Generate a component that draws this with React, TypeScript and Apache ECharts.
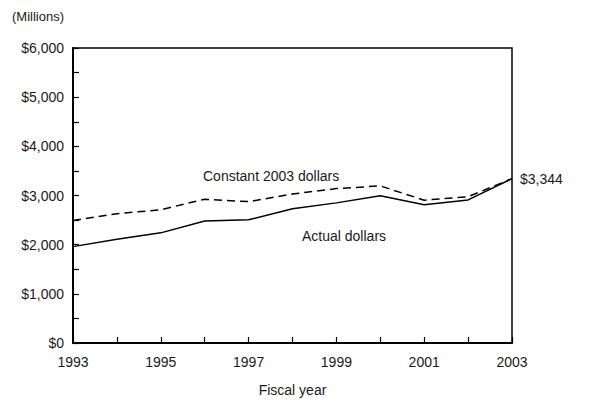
import React, { useEffect, useRef } from "react";
import * as echarts from "echarts";

const years = ["1993", "1994", "1995", "1996", "1997", "1998", "1999", "2000", "2001", "2002", "2003"];
const actualDollars = [1960, 2110, 2240, 2480, 2505, 2730, 2850, 2995, 2810, 2910, 3344];
const constant2003Dollars = [2490, 2630, 2710, 2925, 2875, 3030, 3140, 3195, 2905, 2975, 3344];
const yTicks = [0, 1000, 2000, 3000, 4000, 5000, 6000];

const FONT = "'Arial Narrow', 'Liberation Sans', Arial, sans-serif";
const TXT = "#1a1a1a";
const FS = 14;

export default function App() {
  const ref = useRef<HTMLDivElement>(null);
  useEffect(() => {
    if (!ref.current) return;
    const chart = echarts.init(ref.current, undefined, { renderer: "svg" });
    chart.setOption({
      animation: false,
      textStyle: { fontFamily: FONT, color: TXT },
      grid: {
        left: 73,
        right: 98,
        top: 48,
        bottom: 54,
        show: true,
        borderColor: "#000",
        borderWidth: 1.5,
        backgroundColor: "transparent",
      },
      graphic: [
        { type: "text", left: 12, top: 10, style: { text: "(Millions)", font: `13px ${FONT}`, fill: TXT } },
        { type: "text", left: 203, top: 169, style: { text: "Constant 2003 dollars", font: `${FS}px ${FONT}`, fill: TXT } },
        { type: "text", left: 302, top: 229, style: { text: "Actual dollars", font: `${FS}px ${FONT}`, fill: TXT } },
      ],
      xAxis: {
        type: "category",
        data: years,
        boundaryGap: false,
        name: "Fiscal year",
        nameLocation: "middle",
        nameGap: 40,
        nameTextStyle: { fontSize: FS, fontFamily: FONT, color: TXT },
        axisLine: { lineStyle: { color: "#000", width: 2 } },
        axisTick: { inside: true, length: 6, interval: 0, lineStyle: { color: "#000", width: 1.2 } },
        axisLabel: { interval: 1, fontSize: FS, fontFamily: FONT, color: TXT, margin: 12 },
        splitLine: { show: false },
      },
      yAxis: {
        type: "value",
        min: 0,
        max: 6000,
        interval: 500,
        axisLine: { show: true, lineStyle: { color: "#000", width: 2 } },
        axisTick: { show: true, inside: true, length: 6, lineStyle: { color: "#000", width: 1.2 } },
        axisLabel: {
          fontSize: FS,
          fontFamily: FONT,
          color: TXT,
          margin: 9,
          formatter: (v: number) => (yTicks.includes(v) ? "$" + v.toLocaleString("en-US") : ""),
        },
        splitLine: { show: false },
      },
      series: [
        {
          name: "Constant 2003 dollars",
          type: "line",
          data: constant2003Dollars,
          symbol: "none",
          lineStyle: { color: "#000", width: 1.5, type: [8, 5] },
        },
        {
          name: "Actual dollars",
          type: "line",
          data: actualDollars,
          symbol: "none",
          lineStyle: { color: "#000", width: 1.5 },
          endLabel: {
            show: true,
            distance: 8,
            fontSize: FS,
            fontFamily: FONT,
            color: TXT,
            formatter: (p: any) => "$" + Number(p.value).toLocaleString("en-US"),
          },
        },
      ],
    });
    return () => chart.dispose();
  }, []);
  return <div ref={ref} style={{ position: "absolute", left: 0, top: 0, width: 610, height: 402 }} />;
}
